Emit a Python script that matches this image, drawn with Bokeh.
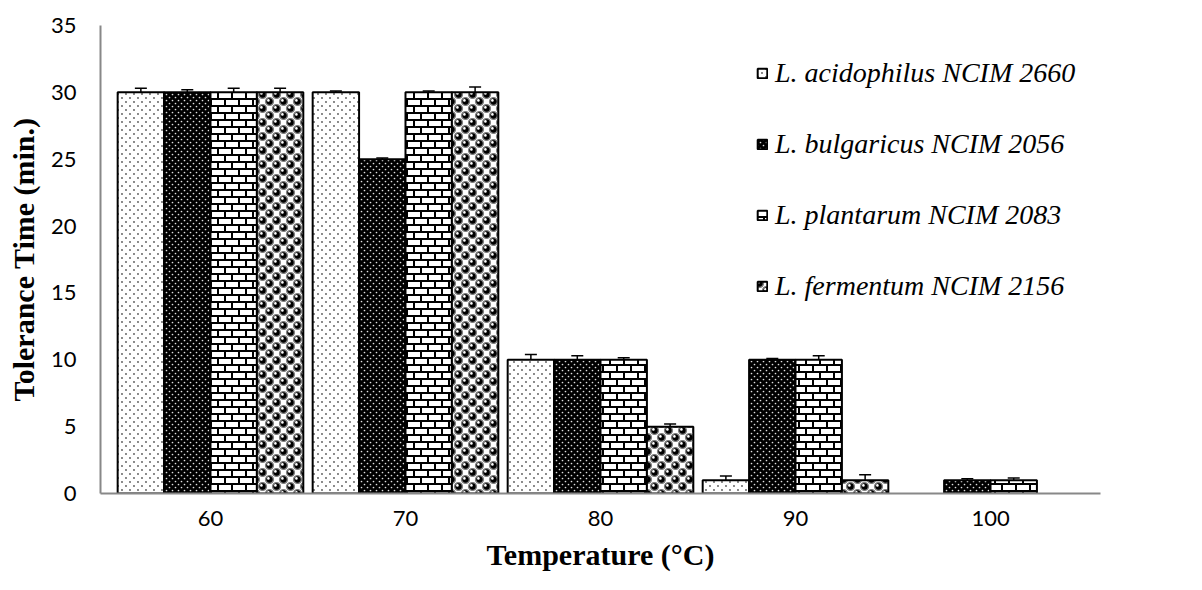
import urllib.parse
import pandas as pd
from bokeh.plotting import figure
from bokeh.models import (ColumnDataSource, FactorRange, Whisker, TeeHead,
                          ImageURLTexture, Legend, LegendItem, FixedTicker)
from bokeh.core.properties import value
from bokeh.transform import dodge
from bokeh.embed import file_html
from bokeh.resources import INLINE

temps = ["60", "70", "80", "90", "100"]
series = ["L. acidophilus NCIM 2660", "L. bulgaricus NCIM 2056",
          "L. plantarum NCIM 2083", "L. fermentum NCIM 2156"]
acidophilus = [30, 30, 10, 1, 0]
bulgaricus = [30, 25, 10, 10, 1]
plantarum = [30, 30, 10, 10, 1]
fermentum = [30, 30, 5, 1, 0]
err_acidophilus = [0.3, 0.1, 0.4, 0.3, 0.0]
err_bulgaricus = [0.2, 0.1, 0.3, 0.1, 0.1]
err_plantarum = [0.3, 0.1, 0.15, 0.3, 0.15]
err_fermentum = [0.3, 0.4, 0.2, 0.4, 0.0]
y_ticks = [0, 5, 10, 15, 20, 25, 30, 35]

values = [acidophilus, bulgaricus, plantarum, fermentum]
errors = [err_acidophilus, err_bulgaricus, err_plantarum, err_fermentum]


def svg_url(body, w, h):
    svg = f"<svg xmlns='http://www.w3.org/2000/svg' width='{w}' height='{h}'>{body}</svg>"
    return "data:image/svg+xml;charset=utf-8," + urllib.parse.quote(svg)


sparse_tile = svg_url("<rect width='8' height='8' fill='white'/>"
                      "<circle cx='2' cy='2' r='0.9' fill='#555'/>"
                      "<circle cx='6' cy='6' r='0.9' fill='#555'/>", 8, 8)
dense_tile = svg_url("<rect width='6' height='6' fill='black'/>"
                     "<circle cx='1.5' cy='1.5' r='0.85' fill='#e0e0e0'/>"
                     "<circle cx='4.5' cy='4.5' r='0.85' fill='#e0e0e0'/>", 6, 6)
brick_tile = svg_url("<rect width='14' height='14' fill='white'/>"
                     "<g fill='black'><rect x='0' y='0' width='14' height='2'/>"
                     "<rect x='0' y='7' width='14' height='2'/>"
                     "<rect x='0' y='0' width='2' height='7'/>"
                     "<rect x='7' y='7' width='2' height='7'/></g>", 14, 14)
sphere_tile = svg_url("<rect width='14' height='14' fill='white'/>"
                      "<g stroke='#808080' stroke-width='1.4'>"
                      "<circle cx='3.5' cy='3.5' r='3.9' fill='black'/>"
                      "<circle cx='10.5' cy='10.5' r='3.9' fill='black'/>"
                      "<circle cx='10.5' cy='-3.5' r='3.9' fill='black'/>"
                      "<circle cx='-3.5' cy='10.5' r='3.9' fill='black'/>"
                      "<circle cx='17.5' cy='3.5' r='3.9' fill='black'/>"
                      "<circle cx='3.5' cy='17.5' r='3.9' fill='black'/></g>"
                      "<circle cx='2.4' cy='2.4' r='1.3' fill='white'/>"
                      "<circle cx='9.4' cy='9.4' r='1.3' fill='white'/>", 14, 14)

styles = [
    dict(fill_color="white", hatch_color="black", hatch_pattern=value("dsparse"), hatch_scale=8,
         hatch_extra={"dsparse": ImageURLTexture(url=sparse_tile)}),
    dict(fill_color="black", hatch_color="white", hatch_pattern=value("ddense"), hatch_scale=6,
         hatch_extra={"ddense": ImageURLTexture(url=dense_tile)}),
    dict(fill_color="white", hatch_color="black", hatch_pattern=value("brick"), hatch_scale=14,
         hatch_extra={"brick": ImageURLTexture(url=brick_tile)}),
    dict(fill_color="white", hatch_color="black", hatch_pattern=value("spheres"), hatch_scale=14,
         hatch_extra={"spheres": ImageURLTexture(url=sphere_tile)}),
]
offsets = [-0.357, -0.119, 0.119, 0.357]
bar_w = 0.238

p = figure(x_range=FactorRange(factors=temps, range_padding=0.064, range_padding_units="absolute"),
           y_range=(0, 35), width=1186, height=574,
           min_border_left=100, min_border_right=86, min_border_top=25, min_border_bottom=81,
           output_backend="svg", toolbar_location=None)

renderers = []
for name, vals, errs, st, off in zip(series, values, errors, styles, offsets):
    df = pd.DataFrame({"temp": temps, "val": vals, "err": errs})
    df = df[df["val"] > 0]
    df["upper"] = df["val"] + df["err"]
    df["lower"] = df["val"] - df["err"]
    src = ColumnDataSource(df)
    r = p.vbar(x=dodge("temp", off, range=p.x_range), top="val", width=bar_w, source=src,
               line_color="black", line_width=2, **st)
    renderers.append((name, r))
    w = Whisker(base=dodge("temp", off, range=p.x_range), upper="upper", lower="lower", source=src,
                line_color="black", line_width=1.5,
                upper_head=TeeHead(size=12, line_width=1.5, line_color="black"),
                lower_head=TeeHead(size=12, line_width=1.5, line_color="black"))
    p.add_layout(w)

legend = Legend(items=[LegendItem(label=n, renderers=[r]) for n, r in renderers],
                location=(656, 191), orientation="vertical",
                glyph_width=12, glyph_height=12, label_height=23, spacing=39,
                label_standoff=7, padding=0, margin=0,
                label_text_font="Liberation Serif", label_text_font_style="italic",
                label_text_font_size="28px", label_text_color="black",
                border_line_color=None, background_fill_alpha=0)
p.add_layout(legend)

p.xgrid.grid_line_color = None
p.ygrid.grid_line_color = None
p.outline_line_color = None

p.yaxis.ticker = FixedTicker(ticks=y_ticks)
for ax in (p.xaxis[0], p.yaxis[0]):
    ax.axis_line_color = "#888888"
    ax.axis_line_width = 2
    ax.major_tick_line_color = None
    ax.minor_tick_line_color = None
    ax.major_tick_out = 0
    ax.major_tick_in = 0
    ax.major_label_text_font = "Lato"
    ax.major_label_text_font_size = "22px"
    ax.major_label_text_color = "black"
    ax.axis_label_text_font = "Liberation Serif"
    ax.axis_label_text_font_style = "bold"
    ax.axis_label_text_font_size = "30px"
    ax.axis_label_text_color = "black"

p.yaxis.major_label_standoff = 24
p.xaxis.major_label_standoff = 17
p.yaxis.axis_label = "Tolerance Time (min.)"
p.xaxis.axis_label = "Temperature (\u00b0C)"
p.yaxis.axis_label_standoff = 8
p.xaxis.axis_label_standoff = 9

open("out.html", "w").write(file_html(p, INLINE))
